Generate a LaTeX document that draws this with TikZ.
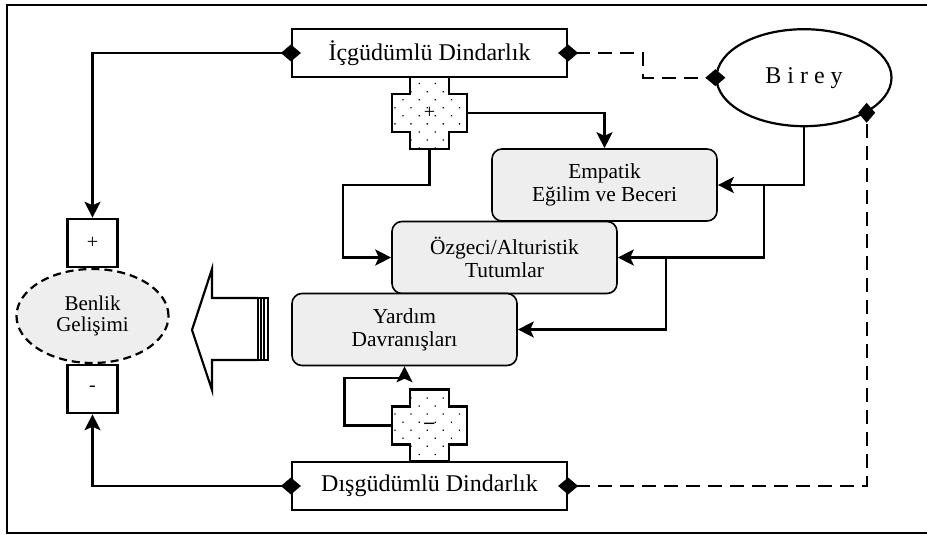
\documentclass[tikz,border=0pt]{standalone}
\usepackage{fontspec}
\setmainfont{Liberation Serif}
\usetikzlibrary{arrows.meta, positioning, shapes.geometric, patterns.meta}
\newcommand\signcross[4]{\draw[line width=1.1pt, fill=white, shift={(#2,#3)}] (-19.5,-36) -- (19.5,-36) -- (19.5,-19) -- (37.5,-19) -- (37.5,19) -- (19.5,19) -- (19.5,36) -- (-19.5,36) -- (-19.5,19) -- (-37.5,19) -- (-37.5,-19) -- (-19.5,-19) --cycle;\fill[pattern={Dots[distance=5.7pt, angle=45, radius=0.45pt]}, shift={(#2,#3)}] (-19.5,-36) -- (19.5,-36) -- (19.5,-19) -- (37.5,-19) -- (37.5,19) -- (19.5,19) -- (19.5,36) -- (-19.5,36) -- (-19.5,19) -- (-37.5,19) -- (-37.5,-19) -- (-19.5,-19) --cycle;\node[minimum width=37.5pt, minimum height=36pt, inner sep=0pt, font=\fontsize{10}{12}\selectfont] (#1) at (#2,#3) {#4};}

\begin{document}
\begin{tikzpicture}[x=0.5pt, y=-0.5pt,
  dbox/.style={draw, fill=white, line width=1.1pt, minimum width=137.5pt, minimum height=24pt, inner sep=0pt, font=\fontsize{12}{14}\selectfont},
  gbox/.style={draw, line width=0.8pt, rounded corners=5pt, fill=gray!13, minimum width=112.5pt, minimum height=36pt, inner sep=0pt, align=center, font=\fontsize{10.7}{11.4}\selectfont},
  sbox/.style={draw, fill=white, line width=1.1pt, minimum width=25pt, minimum height=24pt, inner sep=0pt, font=\fontsize{10}{12}\selectfont},
  link/.style={line width=1.1pt, -{Stealth[length=8pt, width=8pt, inset=1.8pt]}},
  dlink/.style={line width=1.1pt, {Diamond[length=10pt, width=8.5pt]}-{Stealth[length=8pt, width=8pt, inset=1.8pt]}, shorten <=-5pt},
  ddlink/.style={line width=1.1pt, dash pattern=on 7pt off 4pt, {Diamond[length=10pt, width=8.5pt]}-{Diamond[length=10pt, width=8.5pt]}, shorten <=-5pt, shorten >=-5pt}]
\useasboundingbox (0,0) rectangle (927,535);
\draw[line width=1.3pt] (940,5) -- (7,5) -- (7,533) -- (940,533);

% religiosity boxes and the individual
\node[dbox] (intr) at (429.5,53) {İçgüdümlü Dindarlık};
\node[dbox] (extr) at (429.5,486) {Dışgüdümlü Dindarlık};
\node[draw, ellipse, line width=1.1pt, minimum width=87.5pt, minimum height=48.5pt, inner sep=0pt, font=\fontsize{12}{14}\selectfont] (birey) at (804,77.7) {B i r e y};

% self development
\node[draw, ellipse, line width=1.1pt, dash pattern=on 4pt off 2.5pt, fill=gray!13, minimum width=76pt, minimum height=47pt, inner sep=0pt, align=center, font=\fontsize{10.5}{10.8}\selectfont] (self) at (92.5,316) {Benlik\\Gelişimi};
\node[sbox, above=0pt of self] (pos) {+};
\node[sbox, below=0pt of self] (neg) {-};

% the three stages
\node[gbox] (emp) at (604.5,185) {Empatik\\Eğilim ve Beceri};
\node[gbox] (alt) at (504.5,257.5) {Özgeci/Alturistik\\Tutumlar};
\node[gbox] (help) at (404.5,329.5) {Yardım\\Davranışları};

\signcross{plus}{429.5}{113}{+}
\signcross{minus}{429.5}{425.5}{\textbf{--}}

% big arrow
\draw[line width=1.1pt, fill=white] (258,298) -- (212,298) -- (212,269) -- (192,330) -- (212,390) -- (212,360) -- (258,360);
\draw[line width=1.1pt] (258,298) rectangle (268,360);
\foreach \sx in {261,264}
  \draw[line width=1.2pt] (\sx,298) -- (\sx,360);

% connectors
\draw[dlink] (intr.west) -| (pos.north);
\draw[dlink] (extr.west) -| (neg.south);
\draw[ddlink] (intr.east) -- ++(75,0) |- (birey.west);
\draw[ddlink] (extr.east) -| (birey.south east);
\draw[link] (plus.east) -| (emp.north);
\draw[link] (plus.south) -- ++(0,36) -| ([xshift=-24pt]alt.west) -- (alt.west);
\draw[link] (birey.south) |- (emp.east);
\draw[link] ([xshift=-20pt]birey.south |- emp.east) |- (alt.east);
\draw[link] ([xshift=24pt]alt.east) |- (help.east);
\draw[link] (minus.west) -| ([xshift=-30pt, yshift=-6pt]help.south) -| (help.south);
\end{tikzpicture}
\end{document}
